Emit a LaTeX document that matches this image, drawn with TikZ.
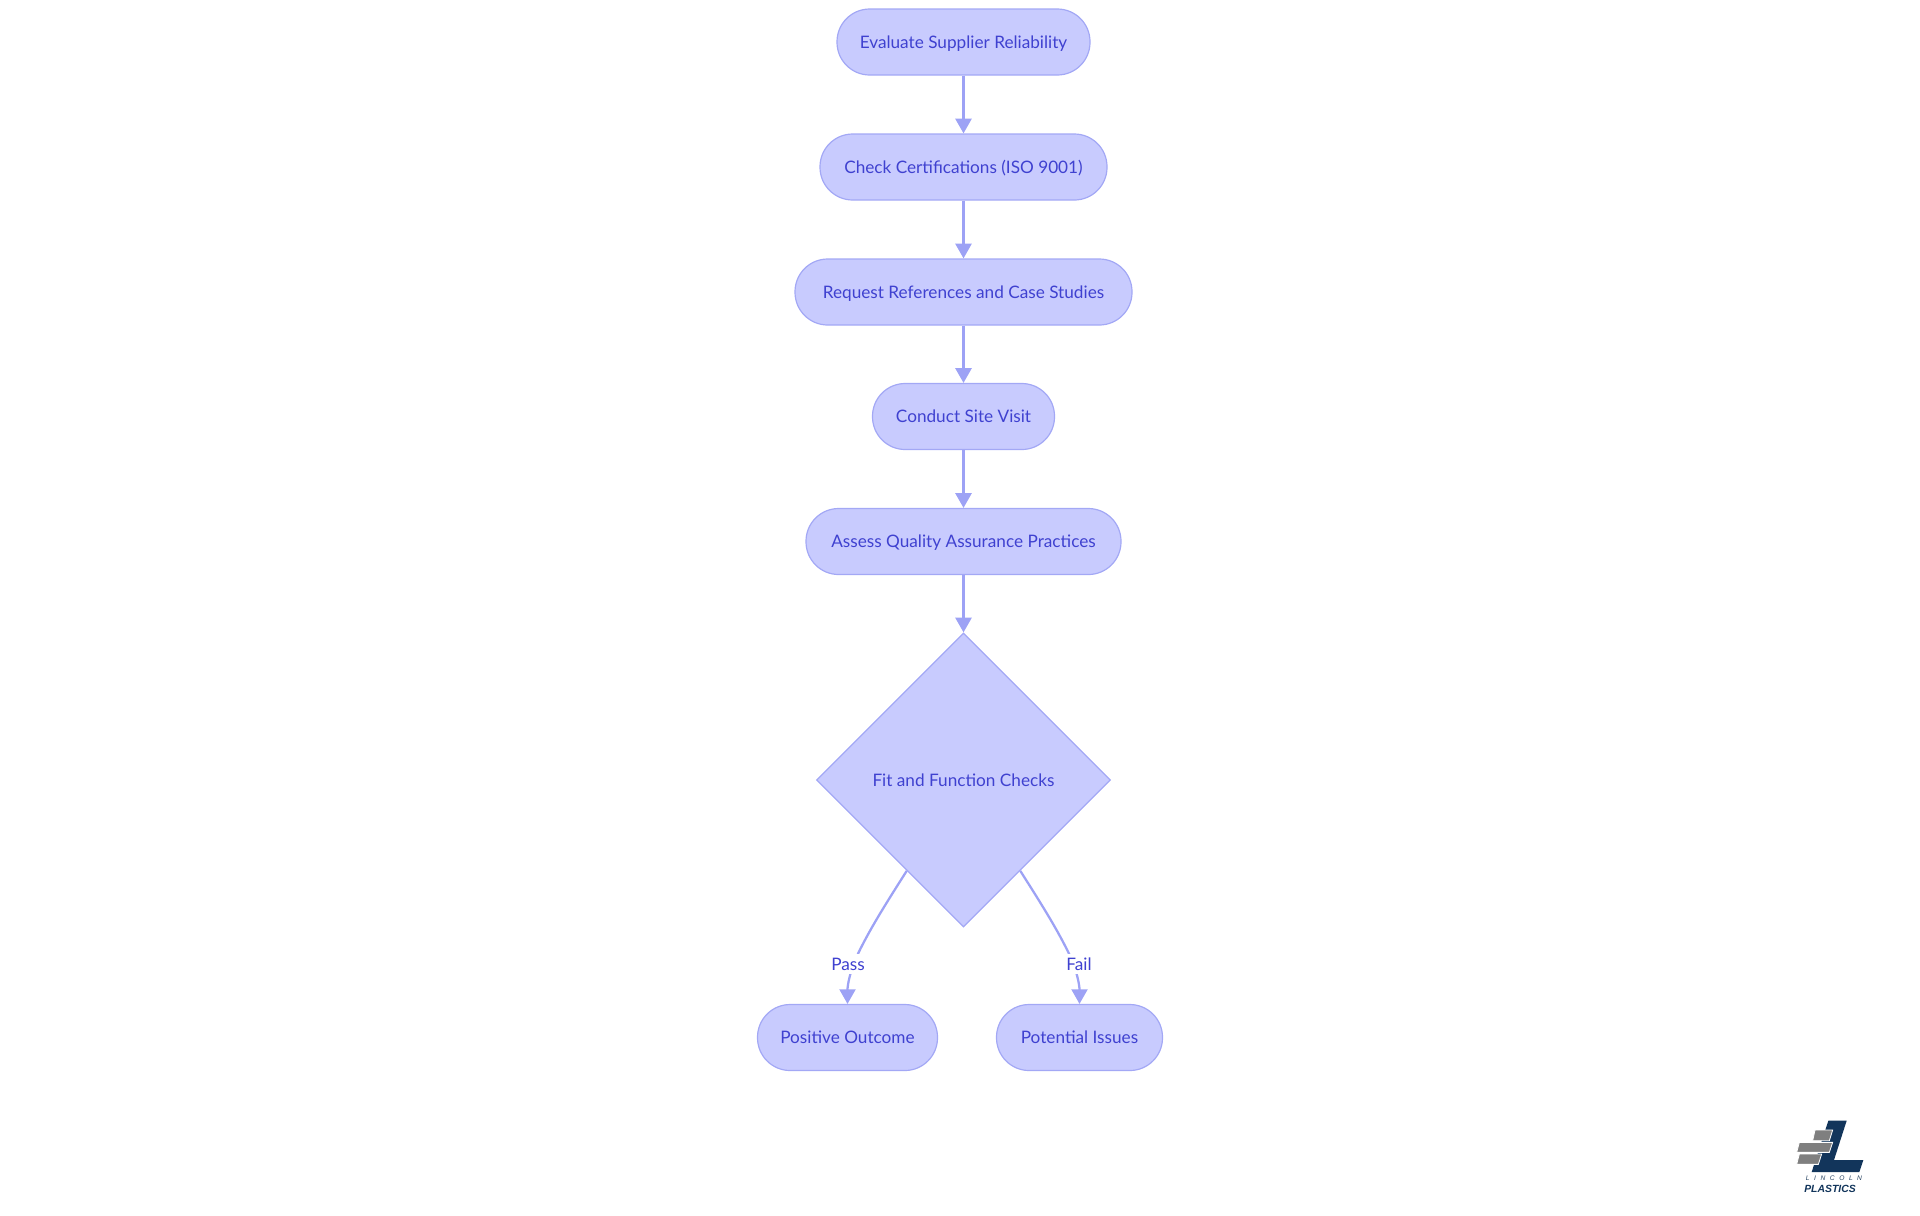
\documentclass[tikz,border=0pt]{standalone}
\usepackage{fontspec}
\setmainfont{Lato}
\newfontfamily\logofont{Liberation Sans}
\usetikzlibrary{arrows.meta,shapes.geometric}
\definecolor{nodefill}{HTML}{C8CBFE}
\definecolor{nodeline}{HTML}{A3A8F5}
\definecolor{edgeline}{HTML}{9DA2F5}
\definecolor{labeltext}{HTML}{3F41D0}
\definecolor{logoblue}{HTML}{12355B}
\definecolor{logogrey}{HTML}{7F7F7F}
\tikzset{
  x=0.75pt,y=-0.75pt,
  txt/.style={text=labeltext,font=\fontsize{12.9pt}{16pt}\selectfont,text height=11.25pt,text depth=2.25pt,inner sep=0pt},
  pill/.style={txt,draw=nodeline,fill=nodefill,line width=0.9pt,rounded corners=24.5pt,minimum height=49.5pt,minimum width=#1*0.75pt},
  choice/.style={txt,shape=diamond,aspect=1,draw=nodeline,fill=nodefill,line width=0.9pt,minimum width=220.5pt,minimum height=220.5pt},
  edgelabel/.style={txt,fill=white,minimum height=15pt,minimum width=28pt},
  flow/.style={draw=edgeline,line width=1.7pt,-{Triangle[length=11pt,width=12pt]}},
  brick/.style={fill=logogrey,draw=white,line width=0.6pt},
}
\begin{document}
\begin{tikzpicture}
\useasboundingbox (0,0) rectangle (1920,1215);
\node[pill=253] (n1) at (963.5,42) {Evaluate Supplier Reliability};
\node[pill=287] (n2) at (963.5,167) {Check Certifications (ISO 9001)};
\node[pill=337] (n3) at (963.5,292) {Request References and Case Studies};
\node[pill=182] (n4) at (963.5,416.5) {Conduct Site Visit};
\node[pill=315] (n5) at (963.5,541.5) {Assess Quality Assurance Practices};
\node[choice] (d) at (963.5,780) {Fit and Function Checks};
\node[pill=180] (pos) at (847.5,1037.5) {Positive Outcome};
\node[pill=166] (neg) at (1079.5,1037.5) {Potential Issues};
\draw[flow] (n1.south) -- (n2.north);
\draw[flow] (n2.south) -- (n3.north);
\draw[flow] (n3.south) -- (n4.north);
\draw[flow] (n4.south) -- (n5.north);
\draw[flow] (n5.south) -- (d.north);
\coordinate (pm) at (856,958);
\coordinate (fm) at (1071,958);
\draw[flow] (d.238.6) .. controls (885,905) and (868,932) .. (pm) .. controls (850,972) and (847.5,985) .. (pos.north);
\draw[flow] (d.302) .. controls (1042,905) and (1059,932) .. (fm) .. controls (1077,972) and (1079.5,985) .. (neg.north);
\node[edgelabel] (lp) at (848,964) {Pass};
\node[edgelabel] (lf) at (1079,964) {Fail};
% logo
\begin{scope}[shift={(1760,1100)},x=0.25pt,y=-0.25pt]
\fill[logoblue] (205,62) -- (260,62) -- (222,180) -- (310,180) -- (298,216) -- (155,216) -- cycle;
\draw[brick] (165,90) -- (218,90) -- (208,122) -- (158,122) -- cycle;
\draw[brick] (118,127) -- (218,127) -- (208,157) -- (110,157) -- cycle;
\draw[brick] (118,162) -- (185,162) -- (175,193) -- (110,193) -- cycle;
\node[inner sep=0pt,text=logoblue!80!gray] (ll) at (222,236) {\logofont\itshape\fontsize{5pt}{6pt}\selectfont\addfontfeature{LetterSpace=68}LINCOLN};
\node[inner sep=0pt,text=logoblue] (lw) at (210,266) {\logofont\bfseries\itshape\fontsize{7.8pt}{10pt}\selectfont PLASTICS};
\end{scope}
\end{tikzpicture}
\end{document}
